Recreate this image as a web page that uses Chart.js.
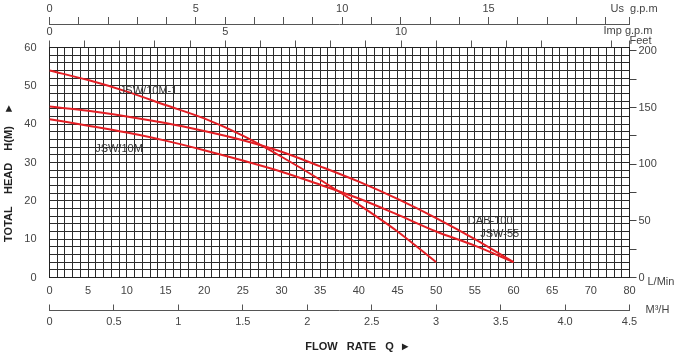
<!DOCTYPE html>
<html>
<head>
<meta charset="utf-8">
<script src="https://cdn.jsdelivr.net/npm/chart.js@4"></script>
<style>
  html, body { margin: 0; padding: 0; background: #fff; }
</style>
</head>
<body>
<canvas id="grafica" width="680" height="353"></canvas>
<script>
// Caudal en L/min (eje inferior) y altura en metros de cada bomba
const flowLpm = [0, 5, 10, 15, 20, 25, 30, 35, 40, 45, 50, 55, 60];
const headJSW10M1 = [54, 51.5, 48.5, 45, 41.5, 37, 31.5, 25.5, 19, 12, 4];
const headDAB100 = [44.6, 43.5, 42, 40.3, 38.2, 35.8, 32.8, 29, 25, 20.5, 15.5, 10, 4];
const headJSW55 = [41.3, 39.6, 37.8, 35.7, 33.2, 30.5, 27.6, 24.2, 20.6, 16.4, 12, 8.3, 4];

// Etiquetas de los ejes (tal cual aparecen en el original)
const lpmLabels = ['0', '5', '10', '15', '20', '25', '30', '35', '40', '45', '50', '55', '60', '65', '70', '80'];
const m3hLabels = ['0', '0.5', '1', '1.5', '2', '2.5', '3', '3.5', '4.0', '4.5'];
const usLabels = ['0', '5', '10', '15'];
const impLabels = ['0', '5', '10'];
const headLabels = ['0', '10', '20', '30', '40', '50', '60'];
const feetLabels = ['0', '50', '100', '150', '200'];

// Conversiones de unidades
const LPM_MAX = 75;
const LPM_POR_USGPM = 3.785;
const LPM_POR_IMPGPM = 4.546;

const fuente = "'Liberation Sans Narrow', 'Liberation Sans', Arial, sans-serif";
const fuenteNormal = "'Liberation Sans', Arial, sans-serif";
Chart.defaults.font.family = fuente;
Chart.defaults.font.size = 11;
Chart.defaults.color = '#444';

function puntos(valores) {
    return valores.map((h, i) => ({ x: flowLpm[i], y: h }));
}

// ticks enteros hasta el maximo, mas el extremo
function ticksEnteros(scale) {
    const t = [];
    for (let v = 0; v <= scale.max; v++) t.push({ value: v });
    t.push({ value: scale.max });
    scale.ticks = t;
}

const rojo = '#e31e24';
const curva = { borderColor: rojo, borderWidth: 2, pointRadius: 0, fill: false, cubicInterpolationMode: 'monotone' };

// Textos sueltos: unidades, titulos y nombres de modelos
const textos = {
    id: 'textos',
    afterDraw(chart) {
        const ctx = chart.ctx;
        const area = chart.chartArea;
        const x = chart.scales.x;
        const y = chart.scales.y;
        ctx.save();
        ctx.fillStyle = '#444';
        ctx.textBaseline = 'middle';
        ctx.textAlign = 'left';
        ctx.font = '11px ' + fuenteNormal;
        ctx.fillText('Us  g.p.m', area.right - 19, 9);
        ctx.fillText('Imp g.p.m', area.right - 26, 31);
        ctx.fillText('Feet', area.right, 41);
        ctx.fillText('L/Min', area.right + 18, area.bottom + 4);
        ctx.fillText('M\u00B3/H', area.right + 16, area.bottom + 32);

        // nombres de las curvas
        ctx.fillStyle = '#333';
        ctx.fillText('JSW/10M-1', x.getPixelForValue(9.1), y.getPixelForValue(48.7));
        ctx.fillText('JSW/10M', x.getPixelForValue(5.9), y.getPixelForValue(33.5));
        ctx.fillText('DAB-100', x.getPixelForValue(54.1), y.getPixelForValue(14.7));
        ctx.fillText('JSW-55', x.getPixelForValue(55.7), y.getPixelForValue(11.3));

        // titulos
        ctx.fillStyle = '#222';
        ctx.font = 'bold 11px ' + fuenteNormal;
        ctx.textAlign = 'center';
        ctx.fillText('FLOW   RATE   Q  \u25BA', 358, 347);
        ctx.translate(9, (area.top + area.bottom) / 2 + 10);
        ctx.rotate(-Math.PI / 2);
        ctx.fillText('TOTAL    HEAD    H(M)    \u25BA', 0, 0);
        ctx.restore();
    }
};

new Chart(document.getElementById('grafica'), {
    type: 'line',
    data: {
        datasets: [
            Object.assign({ label: 'JSW/10M-1', data: puntos(headJSW10M1) }, curva),
            Object.assign({ label: 'DAB-100', data: puntos(headDAB100) }, curva),
            Object.assign({ label: 'JSW-55', data: puntos(headJSW55) }, curva)
        ]
    },
    options: {
        responsive: false,
        animation: false,
        devicePixelRatio: 1,
        plugins: { legend: { display: false }, tooltip: { enabled: false } },
        scales: {
            x: {
                type: 'linear', position: 'bottom', min: 0, max: LPM_MAX,
                ticks: { stepSize: 1, autoSkip: false, maxRotation: 0, padding: 7,
                    callback: v => v % 5 === 0 ? lpmLabels[v / 5] : '' },
                grid: { color: '#2b2b2b', drawTicks: false },
                border: { color: '#222' },
                afterFit: s => { s.height = 33; }
            },
            m3h: {
                type: 'linear', position: 'bottom', min: 0, max: 4.5,
                ticks: { stepSize: 0.5, autoSkip: false, maxRotation: 0, padding: 11,
                    callback: v => m3hLabels[Math.round(v * 2)] },
                grid: { drawOnChartArea: false, tickLength: -6, color: '#555' },
                border: { color: '#555' },
                afterFit: s => { s.height = 42.5; }
            },
            imp: {
                type: 'linear', position: 'top', min: 0, max: LPM_MAX / LPM_POR_IMPGPM,
                afterBuildTicks: ticksEnteros,
                ticks: { autoSkip: false, maxRotation: 0, padding: 2,
                    callback: v => v % 5 === 0 ? impLabels[v / 5] : '' },
                grid: { drawOnChartArea: false, tickLength: 7, color: '#555' },
                border: { color: '#222' },
                afterFit: s => { s.height = 23.5; }
            },
            us: {
                type: 'linear', position: 'top', min: 0, max: LPM_MAX / LPM_POR_USGPM,
                afterBuildTicks: ticksEnteros,
                ticks: { autoSkip: false, maxRotation: 0, padding: 1,
                    callback: v => v % 5 === 0 ? usLabels[v / 5] : '' },
                grid: { drawOnChartArea: false, tickLength: 7, color: '#555' },
                border: { color: '#555' },
                afterFit: s => { s.height = 24; }
            },
            y: {
                type: 'linear', position: 'left', min: 0, max: 60,
                ticks: { stepSize: 2, autoSkip: false, padding: 13,
                    callback: v => v % 10 === 0 ? headLabels[v / 10] : '' },
                grid: { color: '#2b2b2b', drawTicks: false },
                border: { color: '#222' },
                afterFit: s => { s.width = 49.5; }
            },
            feet: {
                type: 'linear', position: 'right', min: 0, max: 203,
                ticks: { stepSize: 25, includeBounds: false, autoSkip: false, padding: 2,
                    callback: v => v % 50 === 0 ? feetLabels[v / 50] : '' },
                grid: { drawOnChartArea: false, tickLength: 7, color: '#444' },
                border: { color: '#222' },
                afterFit: s => { s.width = 50.5; }
            }
        }
    },
    plugins: [textos]
});
</script>
</body>
</html>
